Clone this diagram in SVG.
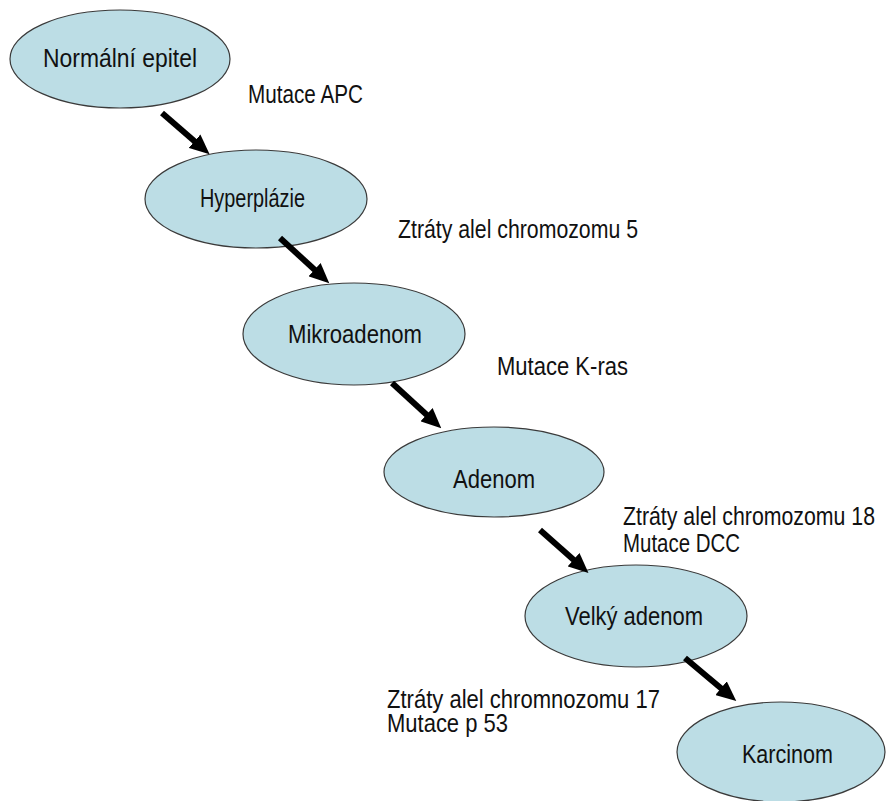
<svg xmlns="http://www.w3.org/2000/svg" width="887" height="801" viewBox="0 0 887 801">
  <style>
    .node ellipse { fill: #bcdde5; stroke: #3a3a3a; stroke-width: 1.2; }
    text { font-family: "Liberation Sans", Arial, sans-serif; font-size: 25px; fill: #111; }
    .conn line { stroke: #000; stroke-width: 6; }
  </style>
  <defs>
    <marker id="ah" viewBox="0 0 20 18" refX="2" refY="9" markerWidth="20" markerHeight="18" markerUnits="userSpaceOnUse" orient="auto">
      <path d="M0,0 L20,9 L0,18 z" fill="#000"/>
    </marker>
  </defs>
  <rect width="887" height="801" fill="#fff"/>

  <g id="node-normalni" class="node">
    <ellipse cx="120" cy="59" rx="110" ry="49"/>
    <text x="43" y="67" textLength="154" lengthAdjust="spacingAndGlyphs">Normální epitel</text>
  </g>
  <g id="node-hyperplazie" class="node">
    <ellipse cx="256" cy="199" rx="111" ry="49"/>
    <text x="200" y="207" textLength="105" lengthAdjust="spacingAndGlyphs">Hyperplázie</text>
  </g>
  <g id="node-mikroadenom" class="node">
    <ellipse cx="354" cy="334" rx="111" ry="51"/>
    <text x="288" y="343" textLength="134" lengthAdjust="spacingAndGlyphs">Mikroadenom</text>
  </g>
  <g id="node-adenom" class="node">
    <ellipse cx="494" cy="472" rx="110" ry="45"/>
    <text x="453" y="488" textLength="82" lengthAdjust="spacingAndGlyphs">Adenom</text>
  </g>
  <g id="node-velky" class="node">
    <ellipse cx="636" cy="616" rx="111" ry="51"/>
    <text x="565" y="625" textLength="138" lengthAdjust="spacingAndGlyphs">Velký adenom</text>
  </g>
  <g id="node-karcinom" class="node">
    <ellipse cx="781" cy="752" rx="104" ry="50"/>
    <text x="742" y="763" textLength="91" lengthAdjust="spacingAndGlyphs">Karcinom</text>
  </g>

  <g id="connectors" class="conn">
    <line x1="162" y1="113" x2="196" y2="142.5" marker-end="url(#ah)"/>
    <line x1="280" y1="238" x2="316" y2="271" marker-end="url(#ah)"/>
    <line x1="392" y1="383" x2="428" y2="416" marker-end="url(#ah)"/>
    <line x1="540" y1="530" x2="575" y2="561" marker-end="url(#ah)"/>
    <line x1="685" y1="658" x2="722.5" y2="689.5" marker-end="url(#ah)"/>
  </g>

  <g id="labels">
    <text x="248" y="103" textLength="115" lengthAdjust="spacingAndGlyphs">Mutace APC</text>
    <text x="398" y="238" textLength="240" lengthAdjust="spacingAndGlyphs">Ztráty alel chromozomu 5</text>
    <text x="497" y="375" textLength="131" lengthAdjust="spacingAndGlyphs">Mutace K-ras</text>
    <text x="623" y="525" textLength="252" lengthAdjust="spacingAndGlyphs">Ztráty alel chromozomu 18</text>
    <text x="623" y="552" textLength="117" lengthAdjust="spacingAndGlyphs">Mutace DCC</text>
    <text x="387" y="708" textLength="273" lengthAdjust="spacingAndGlyphs">Ztráty alel chromnozomu 17</text>
    <text x="387" y="732" textLength="121" lengthAdjust="spacingAndGlyphs">Mutace p 53</text>
  </g>
</svg>
